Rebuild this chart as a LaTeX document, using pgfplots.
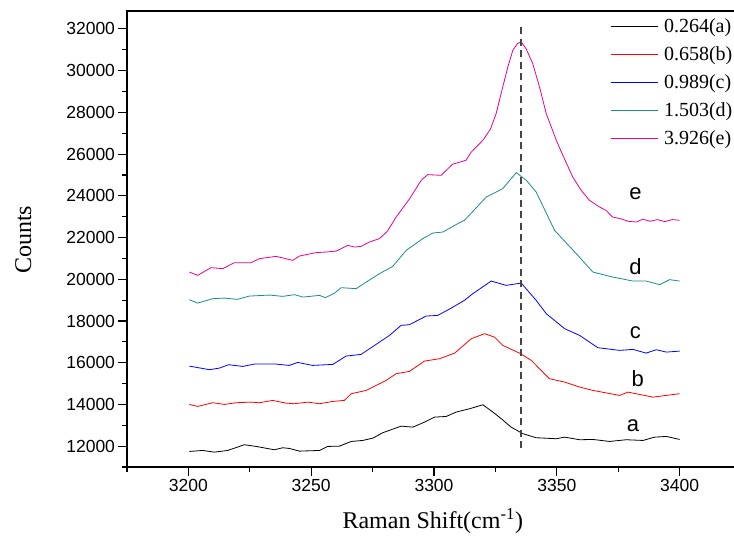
\documentclass[border=0pt]{standalone}
\usepackage{fontspec}
\setmainfont{Liberation Serif}
\newfontfamily\arial{Liberation Sans}
\usepackage{pgfplots}
\pgfplotsset{compat=1.18}
\definecolor{tealc}{RGB}{25,140,140}
\definecolor{dashc}{RGB}{70,70,70}
\begin{document}
\begin{tikzpicture}[x=1bp,y=1bp]
\begin{axis}[
  at={(0,0)}, anchor=south west,
  scale only axis, width=614bp, height=456bp,
  xmin=3175, xmax=3425, ymin=11000, ymax=32860,
  xtick={3200,3250,...,3400}, minor xtick={3175,3225,...,3425},
  ytick={12000,14000,...,32000}, minor ytick={11000,13000,...,33000},
  tick align=outside, major tick length=8.5bp, minor tick length=5bp,
  xtick pos=bottom, ytick pos=left,
  axis line style={line width=1.3bp}, tick style={line width=1.1bp,black},
  ticklabel style={font=\arial\fontsize{17.5bp}{20bp}\selectfont},
  /pgf/number format/assume math mode=true,
  /pgf/number format/set thousands separator={},
  scaled ticks=false,
  xlabel={Raman Shift(cm\textsuperscript{-1})},
  ylabel={Counts},
  every axis x label/.style={at={(axis description cs:0.498,-0.118)}, anchor=center, font=\fontsize{24bp}{26bp}\selectfont},
  every axis y label/.style={at={(axis description cs:-0.169,0.498)}, rotate=90, anchor=center, font=\fontsize{24bp}{26bp}\selectfont},
  legend style={draw=none, fill=none, inner sep=0pt, at={(axis description cs:0.7866,0.9835)}, anchor=north west,
    font=\fontsize{20bp}{22bp}\selectfont, row sep=12.6bp, nodes={inner sep=0pt}},
  legend cell align=left,
  legend image code/.code={\draw[#1, line width=1bp] (0bp,0bp) -- (47bp,0bp); \path (53bp,0bp);},
  every axis plot/.append style={line width=0.8bp},
  clip=false,
]
\addplot[black] coordinates {
(3200.4,11746)(3205.8,11794)(3210.6,11713)(3216,11794)(3222.8,12067)(3227.6,11986)(3235,11826)(3238.4,11923)(3241.1,11890)(3245.2,11760)(3253.4,11794)(3256.7,11986)(3261.5,12000)(3266.3,12225)(3271,12273)(3275.1,12384)(3279.1,12641)(3286.6,12959)(3291.4,12911)(3296.1,13151)(3300.2,13391)(3305,13424)(3309,13631)(3314.5,13793)(3319.9,13985)(3324,13631)(3327.4,13314)(3331.4,12911)(3336.2,12595)(3341.6,12403)(3349.8,12355)(3353.2,12432)(3359.3,12307)(3364.7,12321)(3371.5,12225)(3378.3,12307)(3385.1,12273)(3389.8,12432)(3394.6,12465)(3400,12321)};
\addlegendentry{0.264(a)}
\addplot[red] coordinates {
(3200.4,14000)(3203.8,13904)(3209.9,14081)(3214.7,14000)(3219.4,14081)(3225.5,14110)(3228.9,14081)(3234.3,14192)(3239.8,14062)(3243.2,14033)(3248.6,14110)(3253.4,14033)(3258.8,14144)(3263.5,14192)(3266.3,14513)(3272.4,14671)(3277.8,14993)(3280.5,15151)(3284.6,15472)(3290,15583)(3296.1,16077)(3302.2,16190)(3308.4,16460)(3315.2,17151)(3320.6,17391)(3324.6,17228)(3328,16830)(3334.8,16460)(3339.6,16110)(3347,15232)(3353.2,15070)(3359.3,14830)(3364.7,14671)(3375.6,14432)(3379,14590)(3389.1,14350)(3400,14513)};
\addlegendentry{0.658(b)}
\addplot[blue] coordinates {
(3200.4,15837)(3208.6,15664)(3212.6,15741)(3216.4,15904)(3222.1,15822)(3226.9,15933)(3235.7,15933)(3241.1,15870)(3244.5,16014)(3250.6,15870)(3258.8,15918)(3264.2,16317)(3270.3,16398)(3277.8,16988)(3281.9,17309)(3286.6,17789)(3290,17822)(3296.8,18235)(3301.5,18268)(3306,18550)(3312.4,18988)(3315.8,19309)(3323.3,19914)(3329.4,19707)(3335.5,19818)(3341.6,18988)(3345.7,18350)(3353.2,17630)(3359.3,17309)(3366.7,16719)(3375.6,16590)(3381,16638)(3386.4,16460)(3390.5,16623)(3394.6,16508)(3400,16556)};
\addlegendentry{0.989(c)}
\addplot[tealc] coordinates {
(3200.4,19021)(3203.8,18858)(3209.9,19069)(3214.7,19098)(3220,19036)(3224.8,19194)(3233,19242)(3238.4,19180)(3243.2,19261)(3246.6,19146)(3253.4,19227)(3255.8,19117)(3259.5,19338)(3262.2,19597)(3268.3,19549)(3272.4,19866)(3277.8,20268)(3283.2,20618)(3288.7,21386)(3295.4,21947)(3299.5,22216)(3303.6,22264)(3309.7,22667)(3312.4,22825)(3321.3,23942)(3328,24345)(3333.5,25112)(3337.6,24743)(3341.6,24182)(3349.1,22345)(3357.9,21228)(3364.7,20345)(3372.8,20105)(3381,19914)(3386.4,19914)(3391.9,19741)(3395.9,19981)(3400,19914)};
\addlegendentry{1.503(d)}
\addplot[magenta] coordinates {
(3200.4,20345)(3203.8,20187)(3209.2,20556)(3214,20508)(3218.7,20796)(3225.5,20796)(3229,20988)(3235.7,21098)(3242.5,20906)(3245.2,21113)(3252,21276)(3256,21305)(3260.2,21352)(3264.9,21625)(3267.6,21544)(3270.3,21577)(3273.7,21784)(3277.8,21947)(3281,22300)(3284.6,22983)(3290,23850)(3294.8,24743)(3297.4,25016)(3302.9,24983)(3307.5,25510)(3313,25702)(3315.2,26100)(3319.9,26662)(3323,27200)(3325.3,27942)(3328,29218)(3330,30150)(3332.1,30978)(3334,31300)(3335.5,31376)(3337.5,31050)(3340.2,30340)(3343,29200)(3345.7,27942)(3349.8,26662)(3353,25800)(3356.5,24901)(3360,24250)(3363.3,23784)(3367.4,23462)(3370,23304)(3372.7,22983)(3376,22900)(3379,22780)(3382.4,22743)(3385,22880)(3388,22780)(3391,22860)(3394,22760)(3397,22860)(3400,22825)};
\addlegendentry{3.926(e)}
\addplot[dashc, line width=1.8bp, dash pattern=on 7bp off 4.5bp, forget plot] coordinates {(3335.5,11890)(3335.5,32180)};
\node[font=\arial\fontsize{22bp}{24bp}\selectfont] at (axis cs:3381,12960) {a};
\node[font=\arial\fontsize{22bp}{24bp}\selectfont] at (axis cs:3383,15250) {b};
\node[font=\arial\fontsize{22bp}{24bp}\selectfont] at (axis cs:3382,17420) {c};
\node[font=\arial\fontsize{22bp}{24bp}\selectfont] at (axis cs:3382,20620) {d};
\node[font=\arial\fontsize{22bp}{24bp}\selectfont] at (axis cs:3382,24100) {e};
\end{axis}
\pgfresetboundingbox
\path[use as bounding box] (-127bp,-70bp) rectangle (607bp,467bp);
\end{tikzpicture}
\end{document}
